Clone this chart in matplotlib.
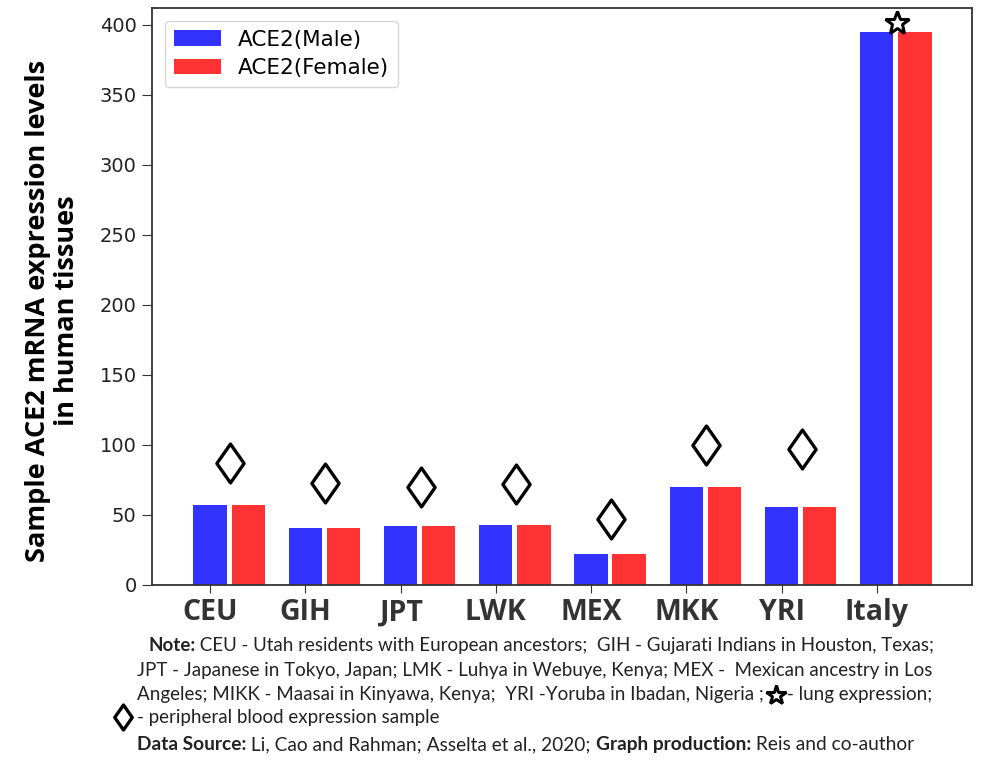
import matplotlib
matplotlib.use('Agg')
import matplotlib.pyplot as plt
import numpy as np
from matplotlib.path import Path

groups = ['CEU', 'GIH', 'JPT', 'LWK', 'MEX', 'MKK', 'YRI', 'Italy']
male = [57, 41, 42, 43, 22, 70, 56, 395]
female = [57, 41, 42, 43, 22, 70, 56, 395]
# hand-placed symbols over the bars
blood_groups = ['CEU', 'GIH', 'JPT', 'LWK', 'MEX', 'MKK', 'YRI']
blood_level = [87, 73, 70, 72, 47, 100, 97]
lung_groups = ['Italy']
lung_level = [401]

note_lines = [
    [('Note:', 'bold'), (' CEU - Utah residents with European ancestors;  GIH - Gujarati Indians in Houston, Texas;', 'normal')],
    [('JPT - Japanese in Tokyo, Japan; LMK - Luhya in Webuye, Kenya; MEX -  Mexican ancestry in Los', 'normal')],
    [('Angeles; MIKK - Maasai in Kinyawa, Kenya;  YRI -Yoruba in Ibadan, Nigeria ;', 'normal')],
    [('- peripheral blood expression sample', 'normal')],
]
source_line = [('Data Source:', 'bold'), (' Li, Cao and Rahman; Asselta et al., 2020; ', 'normal'),
               ('Graph production:', 'bold'), (' Reis and co-author', 'normal')]

fig = plt.figure(figsize=(9.96, 7.67), dpi=100)
ax = fig.add_axes([0.1526, 0.2373, 0.8233, 0.7523])

x = np.arange(len(groups))
ax.bar(x, male, 0.35, color='b', alpha=0.8, label='ACE2(Male)')
ax.bar(x + 0.4, female, 0.35, color='r', alpha=0.8, label='ACE2(Female)')

diamond = Path([(0, 1), (0.7, 0), (0, -1), (-0.7, 0), (0, 1)], closed=True)
bx = np.array([groups.index(g) for g in blood_groups]) + 0.21
ax.plot(bx, blood_level, ls='none', marker=diamond, ms=28, mfc='none', mec='k', mew=2.4, clip_on=False)
lx = np.array([groups.index(g) for g in lung_groups]) + 0.21
ax.plot(lx, lung_level, ls='none', marker='*', ms=18, mfc='white', mec='k', mew=2.2, clip_on=False)

ax.set_xlim(-0.61, 8.0)
ax.set_ylim(0, 412)
ax.set_yticks(range(0, 401, 50))
ax.tick_params(axis='y', labelsize=14, length=7, pad=4, colors='#333333', labelcolor='#222222')
ax.tick_params(axis='x', length=6, colors='#333333')
ax.set_xticks(x)
ax.set_xticklabels(groups, fontsize=20.5, fontweight='bold', family='Open Sans')
for s in ax.spines.values():
    s.set_color('#333333')
    s.set_linewidth(1.3)

ax.set_ylabel('Sample ACE2 mRNA expression levels\nin human tissues', fontsize=19.5,
              family='Open Sans', fontweight='bold', linespacing=1.15)
ax.yaxis.set_label_coords(-0.088, 0.475)

ax.legend(loc='upper left', fontsize=15.5, handlelength=2.2, borderaxespad=0.6, labelspacing=0.4)

renderer = fig.canvas.get_renderer()
W = fig.bbox.width
H = fig.bbox.height


def write_line(xp, yp, pieces, size=13.5):
    for txt, weight in pieces:
        t = fig.text(xp / W, 1 - yp / H, txt, fontsize=size, fontweight=weight,
                     family=['Lato', 'DejaVu Sans'], va='baseline', color='#222222')
        bb = t.get_window_extent(renderer)
        xp = bb.x1
    return xp


ys = [651, 676, 700, 723]
xs = [148, 137, 137, 137]
ends = []
for xp, yp, line in zip(xs, ys, note_lines):
    ends.append(write_line(xp, yp, line))

# star after "Nigeria ;" then rest of line
star_x = ends[2] + 12
fig.add_artist(plt.Line2D([star_x / W], [1 - 695 / H], marker='*', ms=15, mfc='white', mec='k', mew=2.2,
                          transform=fig.transFigure))
write_line(star_x + 11, 700, [('- lung expression;', 'normal')])
fig.add_artist(plt.Line2D([123 / W], [1 - 717 / H], marker=diamond, ms=18, mfc='none', mec='k', mew=2.4,
                          transform=fig.transFigure))
write_line(137, 750, source_line, size=13.8)

fig.savefig('out.png', dpi=100)
